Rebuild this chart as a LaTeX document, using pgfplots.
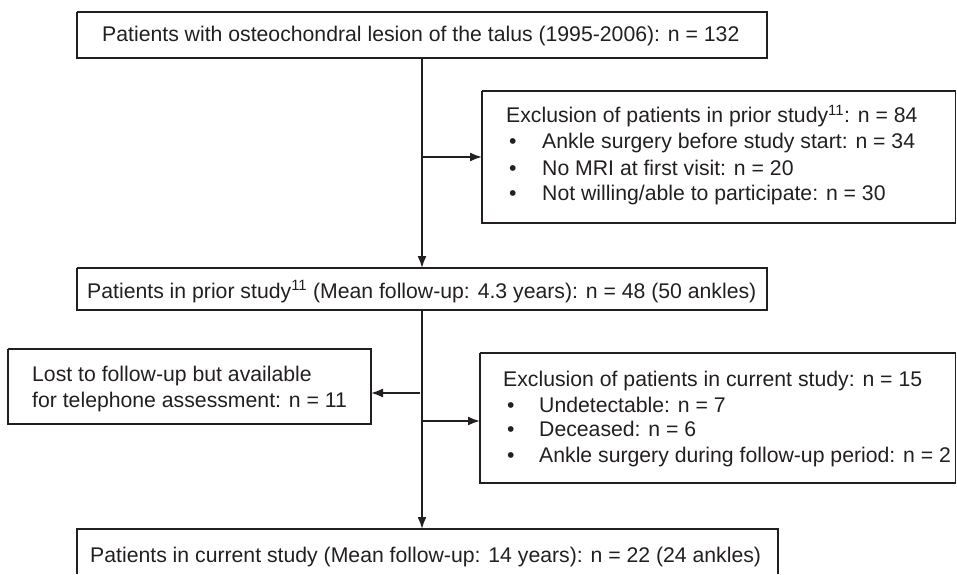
\documentclass[border=0pt]{standalone}
\usepackage{pgfplots}
\pgfplotsset{compat=1.18}
\usepackage{fontspec}
\setmainfont{Liberation Sans}
\usetikzlibrary{arrows.meta}
\definecolor{ink}{HTML}{231F20}
\begin{document}
\begin{tikzpicture}[every node/.style={font=\fontsize{21.3}{25}\selectfont, text=ink, inner sep=0pt, anchor=base west}]
\begin{axis}[
  scale only axis, width=957bp, height=574bp,
  xmin=0, xmax=957, ymin=0, ymax=574, y dir=reverse,
  axis lines=none, clip=false,
  ln/.style={draw=ink, line width=1.7bp, mark=none},
  ar/.style={draw=ink, line width=1.8bp, mark=none, -{Latex[length=12bp,width=9bp]}}
]
\path[draw=none] (axis cs:0,0) rectangle (axis cs:957,574);
% boxes
\addplot[ln] coordinates {(77,12) (767,12) (767,58) (77,58) (77,12)};
\addplot[ln] coordinates {(482,91) (955.5,91) (955.5,223) (482,223) (482,91)};
\addplot[ln] coordinates {(77,268) (767,268) (767,310) (77,310) (77,268)};
\addplot[ln] coordinates {(8,349) (371,349) (371,424) (8,424) (8,349)};
\addplot[ln] coordinates {(480,353) (955.5,353) (955.5,483) (480,483) (480,353)};
\addplot[ln] coordinates {(77,574) (77,529) (778,529) (778,574)};
% connectors
\addplot[ar] coordinates {(422,58) (422,268)};
\addplot[ar] coordinates {(422,157) (482,157)};
\addplot[ar] coordinates {(422,310) (422,529)};
\addplot[ar] coordinates {(420,393) (371,393)};
\addplot[ar] coordinates {(422,421) (480,421)};
% texts
\node at (axis cs:102,42) {Patients with osteochondral lesion of the talus (1995-2006): n = 132};
\node at (axis cs:506,123) {Exclusion of patients in prior study\textsuperscript{11}: n = 84};
\node at (axis cs:509,149) {\textbullet};
\node at (axis cs:542,149) {Ankle surgery before study start: n = 34};
\node at (axis cs:509,175) {\textbullet};
\node at (axis cs:542,175) {No MRI at first visit: n = 20};
\node at (axis cs:509,200) {\textbullet};
\node at (axis cs:542,200) {Not willing/able to participate: n = 30};
\node at (axis cs:87,298) {Patients in prior study\textsuperscript{11} (Mean follow-up: 4.3 years): n = 48 (50 ankles)};
\node at (axis cs:32,381) {Lost to follow-up but available};
\node at (axis cs:32,407) {for telephone assessment: n = 11};
\node at (axis cs:503,386) {Exclusion of patients in current study: n = 15};
\node at (axis cs:507,412) {\textbullet};
\node at (axis cs:539,412) {Undetectable: n = 7};
\node at (axis cs:507,436) {\textbullet};
\node at (axis cs:539,436) {Deceased: n = 6};
\node at (axis cs:507,462) {\textbullet};
\node at (axis cs:539,462) {Ankle surgery during follow-up period: n = 2};
\node at (axis cs:90,562) {Patients in current study (Mean follow-up: 14 years): n = 22 (24 ankles)};
\end{axis}
\end{tikzpicture}
\end{document}
